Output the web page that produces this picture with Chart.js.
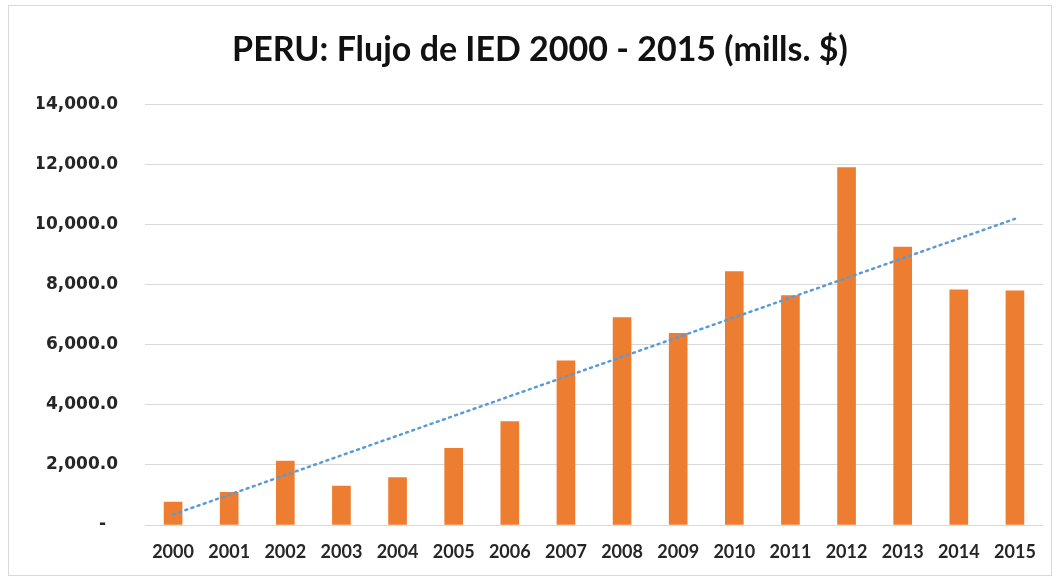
<!DOCTYPE html>
<html>
<head>
<meta charset="utf-8">
<script src="https://cdn.jsdelivr.net/npm/chart.js@4.4.1/dist/chart.umd.min.js"></script>
<style>
  html, body { margin: 0; padding: 0; background: #ffffff; }
  #wrap { position: relative; width: 1063px; height: 580px; }
  #frame { position: absolute; left: 8px; top: 5px; width: 1044px; height: 571px; border: 1px solid #d9d9d9; box-sizing: border-box; }
  canvas { position: absolute; left: 0; top: 0; }
</style>
</head>
<body>
<div id="wrap">
  <div id="frame"></div>
  <canvas id="c" width="1063" height="580"></canvas>
</div>
<script>
const years = ['2000','2001','2002','2003','2004','2005','2006','2007','2008','2009','2010','2011','2012','2013','2014','2015'];
const iedValues = [760, 1090, 2133, 1300, 1578, 2556, 3444, 5467, 6911, 6389, 8444, 7644, 11911, 9256, 7833, 7800];
const trendValues = [350, null, null, null, null, null, null, null, null, null, null, null, null, null, null, 10200];
const yTicks = [0, 2000, 4000, 6000, 8000, 10000, 12000, 14000];
const titleText = 'PERU: Flujo de IED 2000 - 2015 (mills. $)';

function fmt(v) {
  if (v === 0) return '-  ';
  return v.toLocaleString('en-US', { minimumFractionDigits: 1, maximumFractionDigits: 1 });
}

new Chart(document.getElementById('c'), {
  type: 'bar',
  data: {
    labels: years,
    datasets: [
      {
        type: 'line',
        data: trendValues,
        spanGaps: true,
        borderColor: '#5B9BD5',
        borderWidth: 2.5,
        borderDash: [2, 4.5],
        borderCapStyle: 'round',
        pointRadius: 0,
        fill: false,
        order: 0
      },
      {
        type: 'bar',
        data: iedValues,
        backgroundColor: '#ED7D31',
        barThickness: 18,
        order: 1
      }
    ]
  },
  options: {
    responsive: false,
    animation: false,
    layout: { padding: { left: 37, right: 20, top: 0, bottom: 0 } },
    plugins: {
      legend: { display: false },
      tooltip: { enabled: false },
      title: {
        display: true,
        text: titleText,
        color: '#111111',
        font: { family: 'Lato', size: 34, weight: 'bold' },
        padding: { top: 30, bottom: 34 }
      }
    },
    scales: {
      x: {
        grid: { display: false, drawTicks: false },
        border: { display: false },
        ticks: {
          color: '#262626',
          font: { family: 'Lato', size: 18, weight: 'bold' },
          padding: 16,
          maxRotation: 0,
          autoSkip: false
        },
        afterFit: (s) => { s.height = 55; }
      },
      y: {
        min: 0,
        max: 14000,
        afterBuildTicks: (s) => { s.ticks = yTicks.map(v => ({ value: v })); },
        grid: { color: '#d9d9d9', lineWidth: 1, drawTicks: false },
        border: { display: false },
        ticks: {
          color: '#262626',
          font: { family: 'DejaVu Sans', size: 17, weight: 'bold' },
          padding: 27,
          callback: (v) => fmt(v)
        },
        afterFit: (s) => { s.width = 108; }
      }
    }
  }
});
</script>
</body>
</html>
